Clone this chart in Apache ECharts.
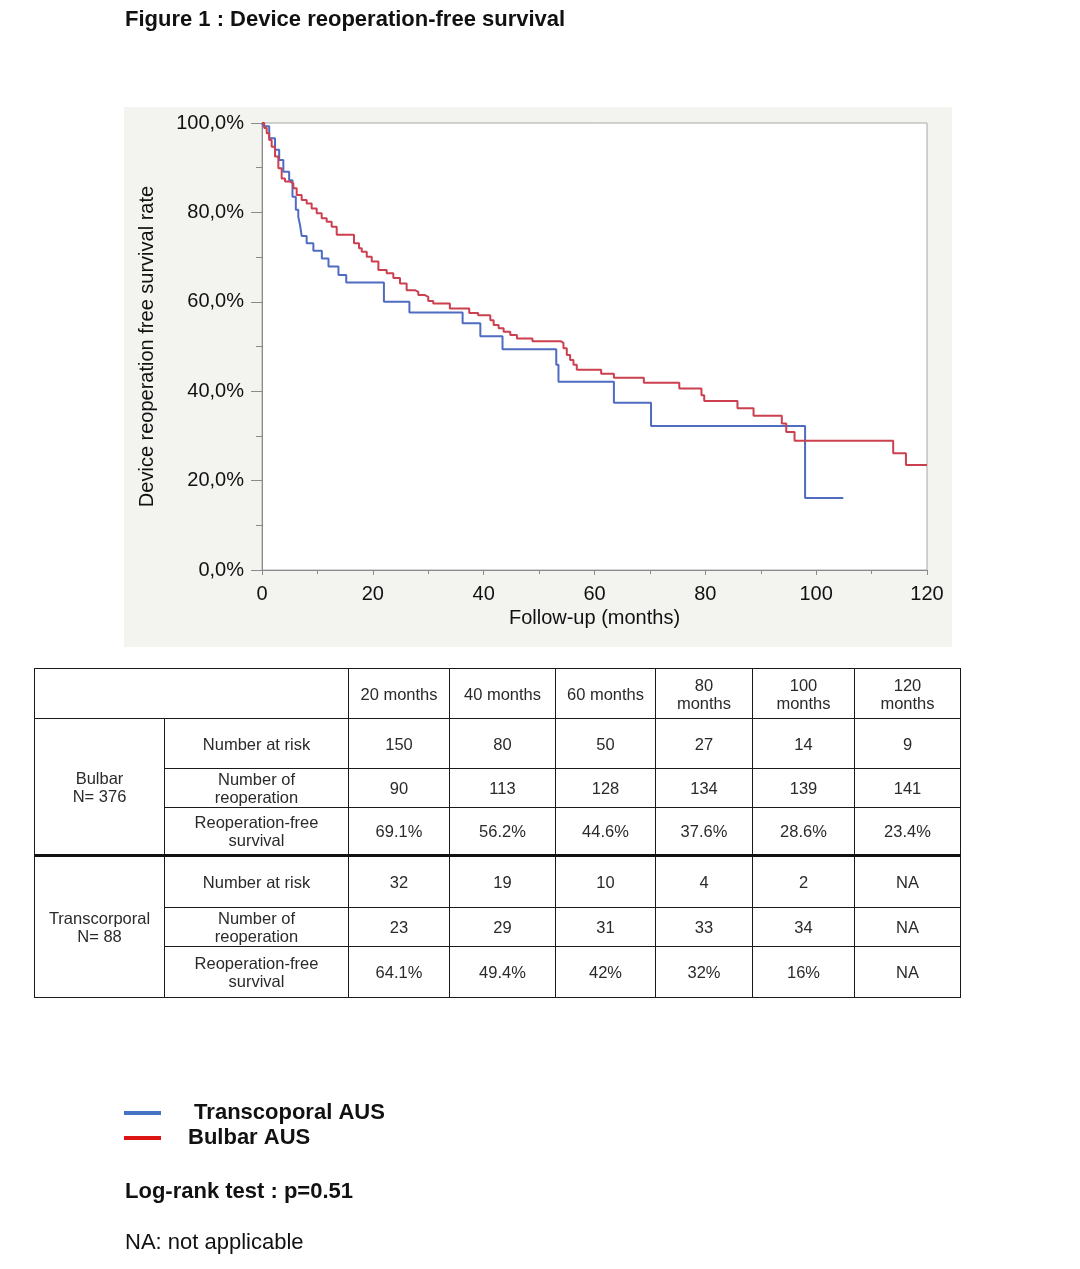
<!DOCTYPE html>
<html>
<head>
<meta charset="utf-8">
<script src="https://cdn.jsdelivr.net/npm/echarts/dist/echarts.min.js"></script>
<style>
  html, body { margin: 0; padding: 0; background: #fff; }
  #wrap { position: relative; width: 1080px; height: 1269px; }
  #chart { position: absolute; left: 0; top: 0; width: 1080px; height: 1269px; }
  #tbl { position: absolute; left: 34px; top: 668px; border-collapse: collapse; table-layout: fixed;
         font-family: "Liberation Sans", Arial, sans-serif; font-size: 16.5px; color: #2a2a2a; }
  #tbl td { border: 1.6px solid #1a1a1a; text-align: center; vertical-align: middle; padding: 0; line-height: 18px; }
  #tbl tr.sep td { border-top: 3.5px solid #111; }
</style>
</head>
<body>
<div id="wrap">
  <div id="chart"></div>
  <table id="tbl"></table>
</div>
<script>
// ---------- data ----------
const transTimes = [0, 0.3, 1.3, 2.35, 3.1, 3.85, 4.9, 5.5, 6.1, 6.55, 6.86, 7.17, 8.06, 9.27, 10.8, 12.0, 13.8, 15.2, 22.0, 26.6, 36.2, 39.4, 43.4, 53.1, 53.5, 63.5, 70.2, 98.0, 104.9];
const transSurv  = [100, 99.3, 96.6, 94.0, 91.7, 89.1, 87.2, 83.5, 80.6, 79.0, 77.2, 74.7, 73.1, 71.4, 69.7, 67.9, 66.0, 64.3, 60.0, 57.6, 55.2, 52.3, 49.4, 45.9, 42.1, 37.4, 32.2, 16.1, 16.1];

const bulbarTimes = [0, 0.4, 0.85, 1.3, 1.74, 2.35, 2.95, 3.55, 4.15, 5.05, 5.66, 6.26, 7.16, 8.06, 8.96, 9.87, 10.77, 11.67, 12.57, 13.48, 16.6, 17.5, 18.0, 18.9, 19.8, 21.0, 22.5, 23.7, 24.9, 26.1, 27.6, 28.2, 29.4, 30.0, 30.9, 33.9, 37.4, 39.0, 41.2, 41.8, 42.7, 43.6, 44.8, 46.0, 48.8, 53.9, 54.4, 55.0, 55.6, 56.2, 56.8, 61.2, 63.5, 68.9, 75.3, 79.3, 79.8, 85.8, 88.7, 93.8, 94.6, 96.1, 113.9, 116.2, 120];
const bulbarSurv  = [100, 98.9, 97.7, 96.2, 94.7, 92.5, 89.9, 87.6, 86.9, 86.5, 85.4, 83.9, 82.8, 82.0, 80.9, 79.8, 78.7, 77.9, 76.8, 75.0, 73.1, 72.0, 71.2, 70.1, 69.0, 67.1, 66.4, 65.3, 64.1, 62.6, 62.2, 61.5, 61.1, 60.2, 59.6, 58.5, 57.5, 57.0, 55.9, 54.8, 54.1, 53.3, 52.6, 51.8, 51.2, 50.8, 49.6, 48.1, 47.0, 45.9, 44.8, 43.9, 43.0, 41.9, 40.6, 39.1, 37.8, 36.2, 34.5, 32.8, 30.9, 28.9, 26.1, 23.5, 23.5];

const seriesNames = ['Transcoporal AUS', 'Bulbar AUS'];

// table data
const periods = [20, 40, 60, 80, 100, 120];
const groupLabels = ['Bulbar<br>N= 376', 'Transcorporal<br>N= 88'];
const rowLabels = ['Number at risk', 'Number of<br>reoperation', 'Reoperation-free<br>survival'];
const bulbarAtRisk = ['150', '80', '50', '27', '14', '9'];
const bulbarReop   = ['90', '113', '128', '134', '139', '141'];
const bulbarRFS    = ['69.1%', '56.2%', '44.6%', '37.6%', '28.6%', '23.4%'];
const transAtRisk  = ['32', '19', '10', '4', '2', 'NA'];
const transReop    = ['23', '29', '31', '33', '34', 'NA'];
const transRFS     = ['64.1%', '49.4%', '42%', '32%', '16%', 'NA'];

// ---------- table ----------
(function buildTable() {
  const colW = [130, 184, 101, 106, 100, 97, 102, 106];
  const rowH = [50, 50, 39, 48, 52, 39, 51];
  const t = document.getElementById('tbl');
  let html = '<colgroup>' + colW.map(w => '<col style="width:' + w + 'px">').join('') + '</colgroup>';
  html += '<tr style="height:' + rowH[0] + 'px"><td colspan="2"></td>' +
    periods.map(p => '<td>' + p + (p >= 80 ? '<br>' : ' ') + 'months</td>').join('') + '</tr>';
  const groups = [[bulbarAtRisk, bulbarReop, bulbarRFS], [transAtRisk, transReop, transRFS]];
  groups.forEach((rows, g) => {
    rows.forEach((vals, r) => {
      const h = rowH[1 + g * 3 + r];
      html += '<tr style="height:' + h + 'px"' + (g === 1 && r === 0 ? ' class="sep"' : '') + '>';
      if (r === 0) html += '<td rowspan="3">' + groupLabels[g] + '</td>';
      html += '<td>' + rowLabels[r] + '</td>';
      html += vals.map(v => '<td>' + v + '</td>').join('');
      html += '</tr>';
    });
  });
  t.innerHTML = html;
})();

// ---------- chart ----------
const chart = echarts.init(document.getElementById('chart'), null, { renderer: 'canvas' });
const FONT = '"Liberation Sans", Arial, sans-serif';
const option = {
  animation: false,
  backgroundColor: '#ffffff',
  textStyle: { fontFamily: FONT },
  graphic: [
    { type: 'rect', z: -10, shape: { x: 124, y: 107, width: 828, height: 540 }, style: { fill: '#f3f3f0' } },
    { type: 'text', left: 125, top: 9, style: { text: 'Figure 1 : Device reoperation-free survival', font: 'bold 22px ' + FONT, fill: '#111' } },
    { type: 'text', left: 125, top: 1181, style: { text: 'Log-rank test : p=0.51', font: 'bold 22px ' + FONT, fill: '#111' } },
    { type: 'text', left: 125, top: 1232, style: { text: 'NA: not applicable', font: '22px ' + FONT, fill: '#111' } }
  ],
  legend: {
    left: 124, top: 1102, orient: 'vertical', icon: 'rect', padding: 0,
    itemWidth: 37, itemHeight: 4, itemGap: 3,
    formatter: n => n === 'Transcoporal AUS' ? ' ' + n : n,
    textStyle: { fontSize: 22, fontWeight: 'bold', color: '#111', fontFamily: FONT, lineHeight: 20, padding: [0, 0, 0, 22] },
    data: [
      { name: seriesNames[0], itemStyle: { color: '#4472c4' } },
      { name: seriesNames[1], itemStyle: { color: '#dc1414' } }
    ]
  },
  grid: { left: 262, top: 123, width: 665, height: 447, show: true, backgroundColor: '#ffffff', borderColor: '#a8a8a8', borderWidth: 1 },
  xAxis: {
    type: 'value', min: 0, max: 120, interval: 20,
    name: 'Follow-up (months)', nameLocation: 'middle', nameGap: 38,
    nameTextStyle: { fontSize: 20, color: '#111', fontFamily: FONT },
    axisLine: { show: true, lineStyle: { color: '#8a8a8a', width: 1 } },
    axisTick: { show: true, length: 5, lineStyle: { color: '#8a8a8a' } },
    minorTick: { show: true, splitNumber: 2, length: 4, lineStyle: { color: '#8a8a8a' } },
    splitLine: { show: false },
    axisLabel: { fontSize: 20, color: '#111', margin: 14, fontFamily: FONT }
  },
  yAxis: {
    type: 'value', min: 0, max: 100, interval: 20,
    name: 'Device reoperation free survival rate', nameLocation: 'middle', nameGap: 105, nameRotate: 90,
    nameTextStyle: { fontSize: 20, color: '#111', fontFamily: FONT },
    axisLine: { show: true, lineStyle: { color: '#8a8a8a', width: 1 } },
    axisTick: { show: true, length: 11, lineStyle: { color: '#8a8a8a' } },
    minorTick: { show: true, splitNumber: 2, length: 6, lineStyle: { color: '#8a8a8a' } },
    splitLine: { show: false },
    axisLabel: { fontSize: 20, color: '#111', margin: 18, fontFamily: FONT,
                 formatter: v => v.toFixed(1).replace('.', ',') + '%' }
  },
  series: [
    { name: seriesNames[0], type: 'line', step: 'end', showSymbol: false, symbol: 'none',
      itemStyle: { color: '#4f6bc2' }, lineStyle: { color: '#4f6bc2', width: 2 },
      data: transTimes.map((t, i) => [t, transSurv[i]]) },
    { name: seriesNames[1], type: 'line', step: 'end', showSymbol: false, symbol: 'none',
      itemStyle: { color: '#cc3f4f' }, lineStyle: { color: '#cc3f4f', width: 2 },
      data: bulbarTimes.map((t, i) => [t, bulbarSurv[i]]) }
  ]
};
chart.setOption(option);
</script>
</body>
</html>
